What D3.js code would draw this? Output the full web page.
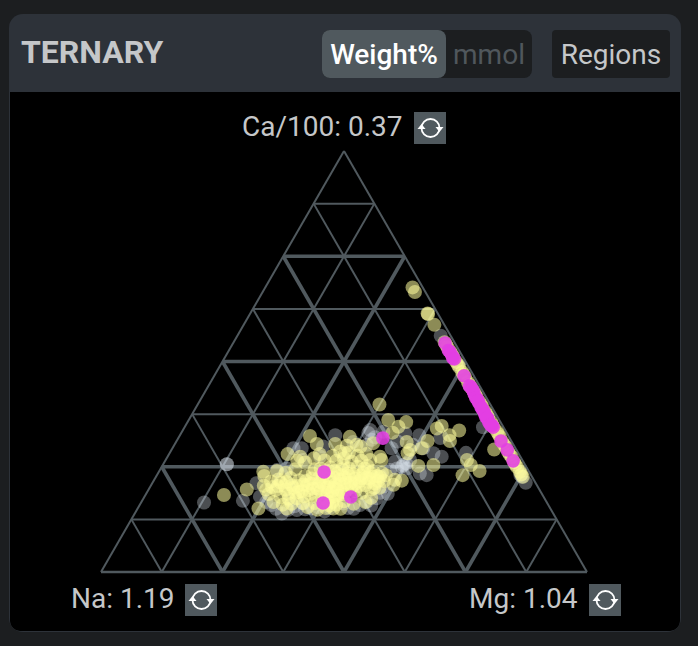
<!DOCTYPE html>
<html lang="en">
<head>
<meta charset="utf-8" />
<title>Ternary</title>
<script src="https://d3js.org/d3.v7.min.js"></script>
<style>
body { margin:0; background:#1c1e20; }
text { font-family:Roboto,sans-serif; }
</style>
</head>
<body>
<svg id="chart" width="698" height="646"></svg>
<script type="text/javascript">
// ternary plot coordinates: [across the base %, Ca %]
var gridMinor = [12.5,37.5,62.5,87.5];
var gridMajor = [25,50,75];
var gridOuter = [100];

var greyPoints = [
[21.2,16.5],[29.2,16.9],[25.9,25.6],[25.9,25.6],[69.9,56.1],[78.6,34.4],[75.1,28.3],[87.4,21.2],[86.6,22.6],[86.3,23],
[48.2,32.5],[55.4,33.7],[58.1,33.3],[65.5,32.5],[62.6,32.9],[70.1,27.4],[68.4,28.2],[69.8,31.8],[67,23],[62.2,25.4],
[61.9,25],[62.8,25.8],[60.5,26.2],[59.8,29.4],[54.7,30.2],[55.7,31.4],[41.3,29.4],[39.6,29.4],[37.2,13.9],
[40.3,14.7],[43.4,15.1],[53.3,15.9],[56.7,17.5],[58.1,20.3],[54.7,16.7],[35.1,15.9],[32.7,17.9],[32,21.1],[36.2,24.2],
[38.2,24.6],[38.9,17.1],[41.6,16.3],[49.9,16.3],[47.1,15.2],[59.5,24.2],[60.9,24.6],[62.9,24.6],[65.6,23.4],[63.6,26.6],
[66.3,29.4],[51.9,30.9],[45.7,29.8],[45.1,27.4],[41.6,26.6],[57.4,23],[57.4,18.8],[38.5,14.8],[36,15],[39.8,15.6],
[42,14.9],[44.6,15.4],[46,14.4],[50.8,15.2],[52,15],[55.6,15.8],[59,18.6],[34,16.6],[55,33],[56.4,32],[61,31],[64.2,30.2]
];

var yellowPoints = [
// edge band
[70.7,54.6],[71.3,53.4],[71.9,52.3],[72.5,51.1],[73.1,49.9],[73.7,48.7],[74.3,47.5],[74.9,46.3],[75.5,45.1],[76.1,43.9],
[76.7,42.8],[77.3,41.6],[77.9,40.4],[78.5,39.2],[79.1,38],[79.6,36.8],[80.3,35.6],[80.8,34.4],[81.5,33.3],[82.1,32.1],
[82.6,30.9],[83.3,29.7],[83.8,28.5],[84.5,27.3],[85,26.1],[85.6,24.9],[86.2,23.8],[86.8,22.6],
[71,54],[72.2,51.7],[73.4,49.3],[74.6,46.9],[75.8,44.5],[77,42.2],[78.2,39.8],[79.4,37.4],[80.5,35],[81.8,32.7],
[82.9,30.3],[84.1,27.9],[85.3,25.5],[86.5,23.2],
// scattered
[64.1,67.6],[64.6,66.5],[67.2,61.4],[67.3,61.3],[68.6,58.7],[57.3,39.8],[59.1,36.1],[62.8,35.6],[61.2,34.5],[60,33.1],
[69.1,34.1],[70.1,34.7],[73.7,33.6],[71.7,32.5],[71.8,31.1],[80.9,29.1],[75.3,26.6],[76.1,25.4],[77.9,24],[74.4,23],
[68.4,25.4],[65.3,25.2],[67.2,31.1],[66,29.4],[62.9,30.9],[63.1,28.2],[63.6,29],[57.4,27.4],[57.7,26.6],[60.5,21.9],
[61.9,21.7],[60.2,20.7],[25.3,18.3],[30,19.6],[32.4,15.1],[33.4,23.8],[38.4,28],[43,32.3],[40.4,26.4],[51.2,32.1],
[48.2,30.4],[44.4,30.4],[52.6,30.2],[50.2,28.2],[38.2,15.1],[47.8,15.1],[56,30.6],
// left of the cluster
[33.5,20.5],[34.5,18.5],[35,21.5],[36,19.5],[36.5,22],[37,17.8],[37.8,20.5],[38.5,18.6],[39,22.3],[39.6,20],
[40.3,17.5],[40.8,21.8],[41.3,19.2],[42,22.8],[42.4,20.6],[35.5,16.6],[37.4,16],[39.2,16.2],[41.5,16.4],[33.6,22.8],
[36.2,24],[38,23.6],[40,24.4],
// middle of the cluster
[43,18.5],[43.2,21],[43.6,23.4],[44,16.4],[44.5,19.8],[44.8,22.3],[45.2,24.6],[45.5,17.6],[45.9,20.6],[46.3,15.2],
[46.6,18.8],[47,22.2],[47.2,24.8],[47.6,16.6],[47.9,20],[48.3,18],[48.6,23.4],[49,21],[49.3,15],[49.6,19],
[49.8,25.4],[46,26.5],[47.7,27.6],[49.2,28.6],
// right of the cluster
[50.2,22.4],[50.6,19.6],[51,24.6],[51.4,21.2],[52,23.2],[52.3,19.2],[52.8,25],[53.2,21.6],[53.6,18.8],[54,23.6],
[54.4,20.6],[54.8,25.2],[55.2,22.2],[55.6,19.6],[56,24],[56.4,21],[56.8,22.8],[57.3,20],[57.8,23.6],[58.2,21.6],
[58.6,23],
// above and below
[48.4,26.4],[50,27],[51,28.4],[51.6,26.2],[52.8,27.6],[53.6,26.4],[54.6,28],[50.6,30],[53.4,29.8],[55.4,26.6],
[45,28],[43.8,27],[42,26],[41,27.4],[52,16.2],[54.4,16.6],[55.6,17.6],[44.5,14.8],[42.5,15.4],[50,16.8],
// second pass through the dense middle
[36.4,20.4],[38.2,21.4],[40,18.8],[41.8,18],[43.6,19.8],[45,21.4],[46,23.4],[46.8,20.2],[47.4,17.8],[48,22.4],
[48.6,19.6],[49.4,23],[50,20.8],[51,22.8],[52.4,21],[53.4,23],[55,21.4],[56,22.6],[44,24.4],[46.6,16.8],[48.4,16],
// third pass, solid part
[34,19.6],[35.2,20.2],[37,21.2],[38,19.6],[39.2,20.6],[40.4,20.4],[41.6,20.8],[42.6,19.4],[43.4,22.2],[44.2,18],
[45.2,19.2],[45.6,22.6],[46.4,20],[46.8,24],[47.2,21.4],[47.6,19.2],[48.2,20.8],[48.8,18.2],[49.2,22],[49.6,24.4],
[50,18.4],[50.4,21.2],[50.8,23.4],[51.6,20.2],[52.2,22.2],[53,20.4],[53.6,22.2],[54.2,24.6],[54.6,22.4],[55.4,23.6],
[56.2,20],[57,21.6],[57.4,22.6],[46.2,17.4],[47,15.8],[48,24],[44.8,20.6],[42.2,21.6],[40.6,19],[38.6,17.4]
];

var pinkPoints = [
[70.8,54.4],[71.8,52.3],[72.2,51.5],[72.4,50.8],[74.7,46.6],[76.1,44],[76.6,43],[76.8,42.3],[77.4,41.1],[77.8,40.1],
[78.2,39.2],[78.6,38.5],[78.9,37.8],[79.2,36.8],[79.6,36.3],[79.8,35.6],[80.3,34.9],[80.7,34.4],[82.3,31.1],[83.6,29],
[84.8,26.4],[45.9,23.75],[45.7,16.4],[51.4,17.8],[58,31.8],
[71.5,52.6],[72.7,50.6],[75.8,44.2],[76.4,43.4],[77.1,41.4],[77.6,40.6],[78.4,38.8],[79,37.4],[79.5,36.6],[80.1,35],[80.5,34.8]
];

var x = d3.scaleLinear().domain([0,100]).range([101,587]);
var y = d3.scaleLinear().domain([0,100]).range([572,151]);

var svg = d3.select("#chart");
var lineCol = "#50595e", labelCol = "#c5c7c9";

// panel
svg.append("clipPath").attr("id","card").append("rect")
   .attr("x",9).attr("y",14).attr("width",672).attr("height",618).attr("rx",14);
var card = svg.append("g").attr("clip-path","url(#card)");
card.append("rect").attr("x",9).attr("y",14).attr("width",672).attr("height",618).attr("fill","#2d3239");
card.append("rect").attr("x",10).attr("y",92).attr("width",670).attr("height",539).attr("rx",10).attr("fill","#000");
card.append("rect").attr("x",10).attr("y",92).attr("width",670).attr("height",30).attr("fill","#000");

// header
svg.append("text").attr("x",21).attr("y",63).attr("font-size",32).attr("font-weight",700)
   .attr("fill",labelCol).text("TERNARY");
svg.append("rect").attr("x",322).attr("y",30).attr("width",210).attr("height",48).attr("rx",8).attr("fill","#1c1e20");
svg.append("rect").attr("x",322).attr("y",30).attr("width",124).attr("height",48).attr("rx",8).attr("fill","#50595e");
svg.append("text").attr("x",384).attr("y",64).attr("text-anchor","middle").attr("font-size",28)
   .attr("font-weight",500).attr("fill","#fff").text("Weight%");
svg.append("text").attr("x",489).attr("y",64).attr("text-anchor","middle").attr("font-size",28)
   .attr("fill","#50575c").text("mmol");
svg.append("rect").attr("x",552).attr("y",30).attr("width",118).attr("height",48).attr("rx",4).attr("fill","#1c1e20");
svg.append("text").attr("x",611).attr("y",64).attr("text-anchor","middle").attr("font-size",28)
   .attr("fill",labelCol).text("Regions");

// grid
function drawGrid(levels, width) {
  var g = svg.append("g").attr("stroke",lineCol).attr("stroke-width",width).attr("fill","none");
  levels.forEach(function(k) {
    var segs = [[[k/2,k],[100-k/2,k]], [[k/2,k],[k,0]], [[100-k/2,k],[100-k,0]]];
    if (k==100) segs.shift();
    segs.forEach(function(s) {
      g.append("line").attr("x1",x(s[0][0])).attr("y1",y(s[0][1]))
       .attr("x2",x(s[1][0])).attr("y2",y(s[1][1]));
    });
  });
}
drawGrid(gridMinor,2);
drawGrid(gridMajor,3.6);
drawGrid(gridOuter,2);
svg.append("line").attr("x1",x(0)).attr("y1",y(0)).attr("x2",x(100)).attr("y2",y(0))
   .attr("stroke",lineCol).attr("stroke-width",2.6);

// points
function drawPoints(data, col, op, r) {
  svg.append("g").selectAll("circle").data(data).join("circle")
     .attr("cx",function(d){return x(d[0]);})
     .attr("cy",function(d){return y(d[1]);})
     .attr("r",r)
     .attr("fill",col)
     .attr("fill-opacity",op);
}
drawPoints(greyPoints,"#dde4ec",0.34,7);
drawPoints(yellowPoints,"#fffd9c",0.55,7);
drawPoints(pinkPoints,"#e23fe2",0.88,6.8);

// axis labels with swap icons
function drawLabel(txt, tx, ix, iy) {
  svg.append("text").attr("x",tx).attr("y",iy+24).attr("font-size",28).attr("fill",labelCol).text(txt);
  svg.append("rect").attr("x",ix).attr("y",iy).attr("width",32).attr("height",32).attr("fill",lineCol);
  var c = [ix+16.5, iy+16];
  svg.append("circle").attr("cx",c[0]).attr("cy",c[1]).attr("r",9)
     .attr("fill","none").attr("stroke","#fff").attr("stroke-width",1.8);
  svg.append("path").attr("fill","#fff")
     .attr("d","M"+(c[0]-13)+","+(c[1]+1)+"h8l-4,-5z");
  svg.append("path").attr("fill","#fff")
     .attr("d","M"+(c[0]+5)+","+(c[1]-1)+"h8l-4,5z");
}
drawLabel("Ca/100: 0.37",242,414,112);
drawLabel("Na: 1.19",71,185,584);
drawLabel("Mg: 1.04",469,589,584);
</script>
</body>
</html>
